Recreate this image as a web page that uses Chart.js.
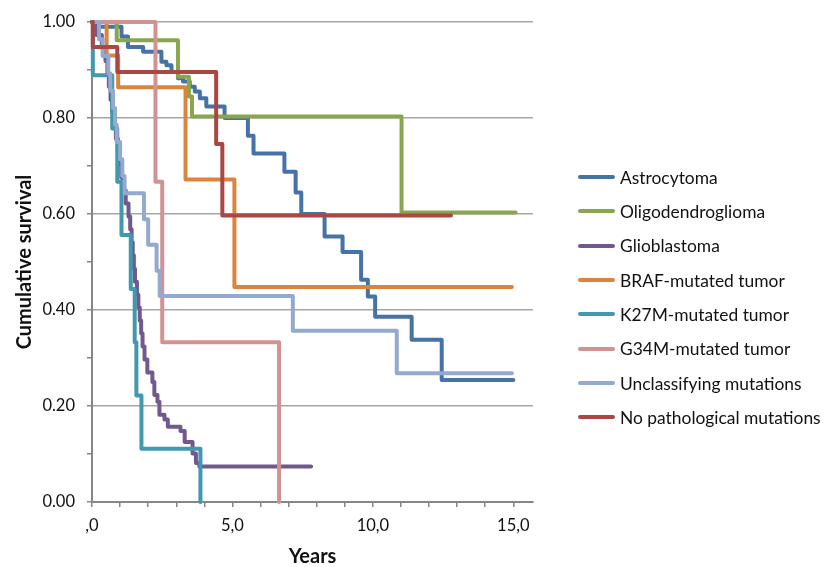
<!DOCTYPE html>
<html>
<head>
<meta charset="utf-8">
<script src="https://cdn.jsdelivr.net/npm/chart.js@4.4.0/dist/chart.umd.min.js"></script>
<style>
  html, body { margin: 0; padding: 0; background: #fff; }
  #wrap { position: relative; width: 824px; height: 567px; }
  #legend { position: absolute; left: 578px; top: 160px; font-family: Lato, sans-serif; font-size: 17.4px; color: #111; }
  .row { display: flex; align-items: center; height: 34.33px; white-space: nowrap; }
  .swatch { width: 37px; height: 4px; border-radius: 2px; margin-right: 5px; }
</style>
</head>
<body>
<div id="wrap">
  <canvas id="chart" width="824" height="567"></canvas>
  <div id="legend"></div>
</div>
<script>
// Kaplan-Meier curves: time of each step (years) and survival after it
const astroTime = [0, 0.05, 1.05, 1.28, 1.82, 2.47, 2.65, 2.83, 3.06, 3.24, 3.48, 3.66, 3.84, 4.07, 4.72, 5.55, 5.75, 6.85, 7.25, 7.45, 8.28, 8.92, 9.58, 9.82, 10.08, 11.38, 12.45, 15.0];
const astroSurv = [1, 0.99, 0.97, 0.948, 0.938, 0.917, 0.91, 0.896, 0.883, 0.876, 0.865, 0.855, 0.841, 0.824, 0.8, 0.763, 0.726, 0.688, 0.645, 0.6, 0.553, 0.521, 0.463, 0.428, 0.386, 0.338, 0.254, 0.254];

const oligoTime = [0, 0.88, 3.06, 3.45, 3.56, 11.02, 15.08];
const oligoSurv = [1, 0.962, 0.886, 0.845, 0.803, 0.603, 0.603];

const glioTime = [0, 0.15, 0.35, 0.48, 0.55, 0.6, 0.66, 0.72, 0.78, 0.85, 0.92, 0.98, 1.04, 1.1, 1.2, 1.3, 1.36, 1.41, 1.45, 1.49, 1.53, 1.6, 1.65, 1.7, 1.75, 1.8, 1.87, 1.97, 2.15, 2.22, 2.33, 2.4, 2.58, 2.7, 3.15, 3.3, 3.58, 3.7, 3.82, 7.8];
const glioSurv = [1, 0.973, 0.946, 0.919, 0.892, 0.865, 0.838, 0.811, 0.784, 0.757, 0.73, 0.703, 0.676, 0.649, 0.622, 0.595, 0.568, 0.541, 0.514, 0.486, 0.459, 0.432, 0.405, 0.378, 0.351, 0.324, 0.297, 0.27, 0.25, 0.223, 0.209, 0.182, 0.172, 0.157, 0.148, 0.125, 0.101, 0.081, 0.074, 0.074];

const brafTime = [0, 0.52, 0.93, 3.33, 5.07, 14.95];
const brafSurv = [1, 0.93, 0.864, 0.672, 0.448, 0.448];

const k27Time = [0, 0.03, 0.72, 0.9, 1.05, 1.38, 1.52, 1.58, 1.76, 3.86];
const k27Surv = [1, 0.889, 0.778, 0.667, 0.556, 0.444, 0.333, 0.222, 0.111, 0];

const g34Time = [0, 2.26, 2.5, 6.66];
const g34Surv = [1, 0.667, 0.333, 0];

const unclTime = [0, 0.25, 0.38, 0.58, 0.65, 0.75, 0.82, 0.88, 1.0, 1.08, 1.16, 1.85, 2.0, 2.3, 2.41, 7.15, 10.85, 14.95];
const unclSurv = [1, 0.964, 0.929, 0.893, 0.857, 0.821, 0.786, 0.75, 0.714, 0.679, 0.643, 0.589, 0.536, 0.482, 0.429, 0.357, 0.268, 0.268];

const noMutTime = [0, 0.03, 0.9, 4.42, 4.64, 12.78];
const noMutSurv = [1, 0.948, 0.896, 0.746, 0.597, 0.597];

const seriesNames = ['Astrocytoma', 'Oligodendroglioma', 'Glioblastoma', 'BRAF-mutated tumor', 'K27M-mutated tumor', 'G34M-mutated tumor', 'Unclassifying mutations', 'No pathological mutations'];
const seriesColors = ['#4572A7', '#89A54E', '#71588F', '#DB843D', '#4198AF', '#D19392', '#93A9CF', '#AA4643'];
const seriesTimes = [astroTime, oligoTime, glioTime, brafTime, k27Time, g34Time, unclTime, noMutTime];
const seriesSurv = [astroSurv, oligoSurv, glioSurv, brafSurv, k27Surv, g34Surv, unclSurv, noMutSurv];

// x axis: a tick mark every year, label every five
const xTickYears = [0, 1, 2, 3, 4, 5, 6, 7, 8, 9, 10, 11, 12, 13, 14, 15];
const xMajorLabels = { 0: ',0', 5: '5,0', 10: '10,0', 15: '15,0' };

const FONT = 'Lato, sans-serif';
const AXIS_GREY = '#868686';

// datasets: later series drawn on top, like the original
const datasets = seriesNames.map((name, i) => ({
    label: name,
    data: seriesTimes[i].map((t, j) => ({ x: t, y: seriesSurv[i][j] })),
    borderColor: seriesColors[i],
    backgroundColor: seriesColors[i],
    borderWidth: 4,
    stepped: true,
    pointRadius: 0,
    fill: false,
    tension: 0,
    borderCapStyle: 'round',
    borderJoinStyle: 'round',
    clip: false,
    order: seriesNames.length - i
}));

new Chart(document.getElementById('chart'), {
    type: 'line',
    data: { datasets: datasets },
    options: {
        responsive: false,
        animation: false,
        layout: { padding: { top: 22, right: 291, bottom: 0, left: 0 } },
        plugins: { legend: { display: false }, tooltip: { enabled: false } },
        scales: {
            x: {
                type: 'linear',
                min: 0,
                max: 15.7,
                afterFit: (scale) => { scale.height = 65; },
                afterBuildTicks: (scale) => {
                    scale.ticks = xTickYears.map(v => ({ value: v }));
                },
                ticks: {
                    autoSkip: false,
                    maxRotation: 0,
                    padding: 9,
                    color: '#111',
                    font: { family: FONT, size: 16.5 },
                    callback: (v) => {
                        const k = Math.round(v);
                        return k in xMajorLabels ? xMajorLabels[k] : '';
                    }
                },
                grid: { drawOnChartArea: false, drawTicks: true, tickLength: 5, tickColor: AXIS_GREY, lineWidth: 1.5 },
                border: { display: true, color: AXIS_GREY, width: 2 },
                title: { display: true, text: 'Years', color: '#111', font: { family: FONT, size: 20, weight: 'bold', lineHeight: 1 }, padding: { top: 0, bottom: 0 } }
            },
            y: {
                min: 0,
                max: 1,
                afterFit: (scale) => { scale.width = 92; },
                ticks: {
                    stepSize: 0.1,
                    padding: 12,
                    color: '#111',
                    font: { family: FONT, size: 16.5 },
                    callback: (v) => (Math.round(v * 10) % 2 === 0 ? v.toFixed(2) : '')
                },
                grid: {
                    color: (ctx) => (ctx.tick && Math.round(ctx.tick.value * 10) % 2 === 0 ? '#a6a6a6' : 'rgba(0,0,0,0)'),
                    tickColor: AXIS_GREY,
                    tickLength: 5,
                    lineWidth: 1.5
                },
                border: { display: true, color: AXIS_GREY, width: 2 },
                title: { display: true, text: 'Cumulative survival', color: '#111', font: { family: FONT, size: 20, weight: 'bold', lineHeight: 1 }, padding: { top: 15, bottom: 0 } }
            }
        }
    }
});

// legend on the right, as real text
const legend = document.getElementById('legend');
seriesNames.forEach((name, i) => {
    const row = document.createElement('div');
    row.className = 'row';
    row.innerHTML = '<span class="swatch" style="background:' + seriesColors[i] + '"></span><span>' + name + '</span>';
    legend.appendChild(row);
});
</script>
</body>
</html>
